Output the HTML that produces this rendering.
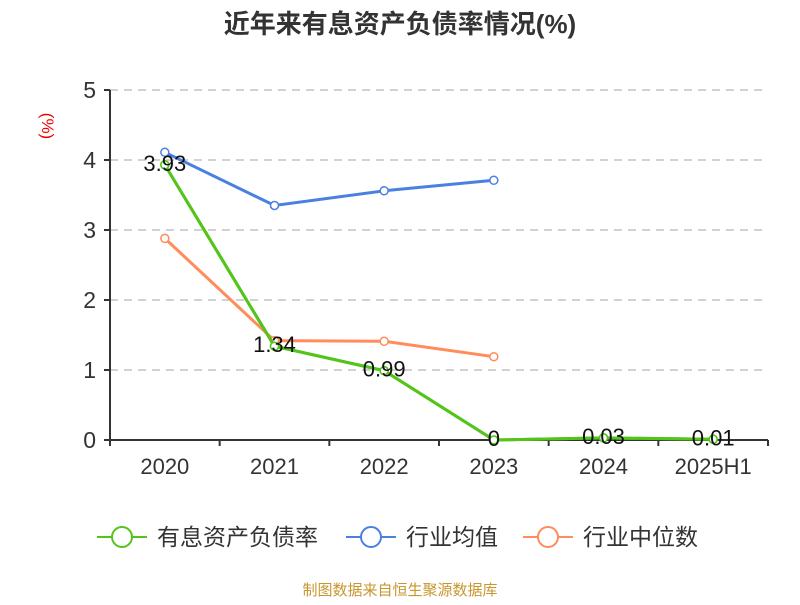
<!DOCTYPE html>
<html><head><meta charset="utf-8"><style>
body{margin:0;background:#fff;}
svg text{font-family:"Liberation Sans","Noto Sans CJK SC",sans-serif;}
</style></head><body>
<svg id="c" width="800" height="600">
<text x="400" y="33" text-anchor="middle" font-size="26" font-weight="bold" fill="#333">近年来有息资产负债率情况(%)</text>
<text x="0" y="0" transform="translate(42,126) rotate(90)" text-anchor="middle" font-size="17" fill="#e00">(%)</text>
<g id="grid"></g><g id="axes"></g><g id="series"></g>
<g>
<g><line x1="97" y1="537" x2="147" y2="537" stroke="#52c41a" stroke-width="2"/><circle cx="122" cy="537" r="10" fill="#fff" stroke="#52c41a" stroke-width="2"/><text x="157" y="545" font-size="23" fill="#333">有息资产负债率</text></g>
<g><line x1="346" y1="537" x2="396" y2="537" stroke="#4a80e0" stroke-width="2"/><circle cx="371" cy="537" r="10" fill="#fff" stroke="#4a80e0" stroke-width="2"/><text x="406" y="545" font-size="23" fill="#333">行业均值</text></g>
<g><line x1="523" y1="537" x2="573" y2="537" stroke="#ff8c5a" stroke-width="2"/><circle cx="548" cy="537" r="10" fill="#fff" stroke="#ff8c5a" stroke-width="2"/><text x="583" y="545" font-size="23" fill="#333">行业中位数</text></g>
</g>
<text x="400" y="595" text-anchor="middle" font-size="15" fill="#c8962e">制图数据来自恒生聚源数据库</text>
</svg>
<script>
const categories=["2020","2021","2022","2023","2024","2025H1"];
const debtRatio=[3.93,1.34,0.99,0,0.03,0.01];
const industryAvg=[4.11,3.35,3.56,3.71];
const industryMedian=[2.88,1.42,1.41,1.19];
const yTicks=[0,1,2,3,4,5];
const NS="http://www.w3.org/2000/svg";
const x0=110,x1=768,yb=440,yt=90,ymax=5;
const bw=(x1-x0)/categories.length;
const X=i=>x0+bw*(i+0.5);
const Y=v=>yb-(v/ymax)*(yb-yt);
function mk(t,a,p){const e=document.createElementNS(NS,t);for(const k in a)e.setAttribute(k,a[k]);p.appendChild(e);return e;}
const grid=document.getElementById('grid'),axes=document.getElementById('axes'),ser=document.getElementById('series');
yTicks.forEach(v=>{
 if(v>0){const g=mk('line',{x1:x0,x2:x1,y1:Y(v),y2:Y(v),stroke:'#c4c4c4','stroke-dasharray':'8,6','stroke-width':1.5},grid);
 
 }
 const t=mk('line',{x1:x0-6,x2:x0,y1:Y(v),y2:Y(v),stroke:'#333','stroke-width':2},axes);
 
 
 const l=mk('text',{x:x0-14,y:Y(v)+8,'text-anchor':'end','font-size':23,fill:'#333'},axes);l.textContent=v;
 
 
});
const ya=mk('line',{x1:x0,x2:x0,y1:yt,y2:yb,stroke:'#333','stroke-width':2},axes);


const xa=mk('line',{x1:x0,x2:x1,y1:yb,y2:yb,stroke:'#333','stroke-width':2},axes);


for(let i=0;i<=categories.length;i++){const t=mk('line',{x1:x0+bw*i,x2:x0+bw*i,y1:yb,y2:yb+6,stroke:'#333','stroke-width':2},axes);
 
 }
categories.forEach((c,i)=>{const l=mk('text',{x:X(i),y:474,'text-anchor':'middle','font-size':22,fill:'#333'},axes);l.textContent=c;
 
 });
function draw(vals,color,name,labels){
 const g=mk('g',{},ser);
 
 
 mk('polyline',{points:vals.map((v,i)=>X(i)+','+Y(v)).join(' '),fill:'none',stroke:color,'stroke-width':3},g);
 vals.forEach((v,i)=>{const c=mk('circle',{cx:X(i),cy:Y(v),r:4,fill:'#fff',stroke:color,'stroke-width':1.5},g);
  
  
  if(labels){const t=mk('text',{x:X(i),y:Y(v)+6,'text-anchor':'middle','font-size':22,fill:'#111'},g);t.textContent=v;
   
   }
 });
}
draw(debtRatio,'#52c41a','series-debt-ratio',false);
draw(industryAvg,'#4a80e0','series-industry-avg',false);
draw(industryMedian,'#ff8c5a','series-industry-median',false);
draw(debtRatio,'#52c41a','series-debt-ratio-labels',true);
</script>
</body></html>
